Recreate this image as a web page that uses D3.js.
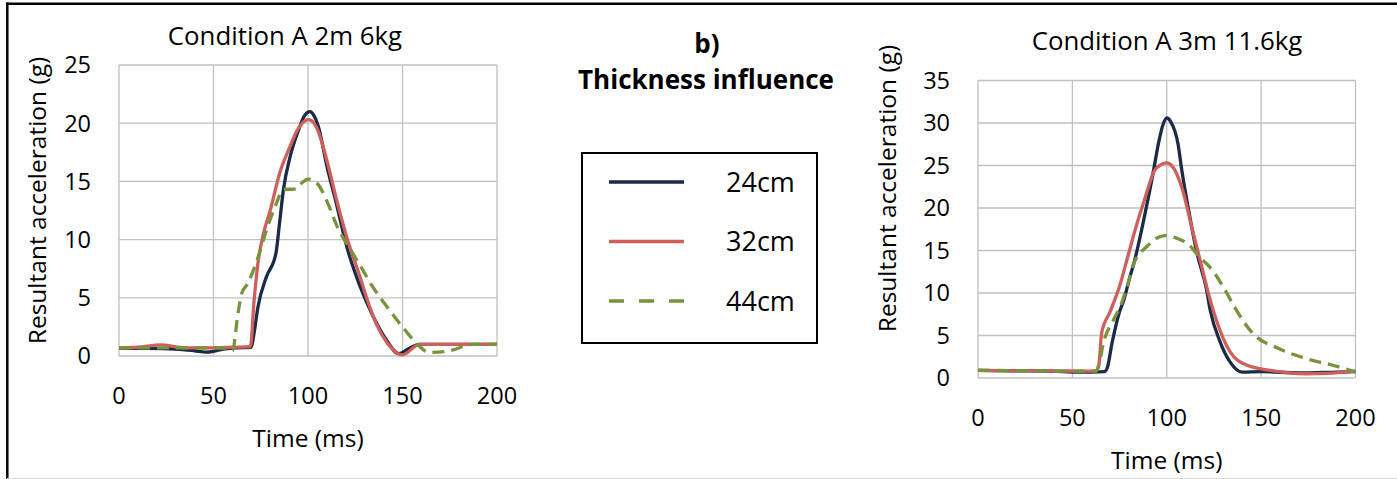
<!DOCTYPE html>
<html>
<head>
<meta charset="utf-8">
<script src="https://cdn.jsdelivr.net/npm/d3@7"></script>
<style>
  body { margin: 0; background: #fff; }
  svg { display: block; font-family: "Open Sans", sans-serif; }
</style>
</head>
<body>
<svg id="fig" width="1397" height="479"></svg>
<script>
// ---- data (time ms, resultant acceleration g) ----
var xTicks = [0, 50, 100, 150, 200];
var yTicksA = [0, 5, 10, 15, 20, 25];
var yTicksB = [0, 5, 10, 15, 20, 25, 30, 35];
var seriesNames = ["24cm", "32cm", "44cm"];

// Condition A 2m 6kg
var a24 = [[0,0.65],[15,0.65],[30,0.6],[40,0.45],[46,0.33],[50,0.4],[55,0.6],[62,0.7],[70,0.75],[71.5,2],[73.5,4.2],
  [78,6.8],[83,8.8],[85,11.5],[87,14.3],[90.5,17.1],[95,19.4],[98,20.6],[101,21],[103,20.7],[105.5,19.7],
  [110,16.3],[115,13.1],[120.5,9.4],[127.5,6.0],[134.5,3.4],[141,1.5],[148,0.2],[153,0.6],[159,1.0],[175,1.0],[200,1.0]];
var a32 = [[0,0.7],[10,0.75],[22,0.95],[35,0.7],[50,0.7],[60,0.75],[69.5,0.8],[71.5,4.8],[73.7,8.2],[76.4,10.5],
  [80,12.5],[85,15.7],[90.5,18],[94,19.3],[97,20],[100,20.3],[102,20.2],[104.6,19.6],[110,16.8],[115,13.5],
  [120.5,10.2],[127.5,6.8],[131,5.0],[136,2.8],[142,1.1],[150,0.1],[159,1.0],[175,1.0],[200,1.0]];
var a44 = [[0,0.7],[20,0.7],[40,0.7],[55,0.7],[60,0.45],[63,3.7],[65,5.4],[68,6.2],[73,8.2],[78,10.8],[83,13.0],
  [87,14.3],[94,14.35],[97,14.9],[100,15.2],[105,14.8],[110,13.3],[115.8,11.0],[123,9.0],[127.5,7.8],
  [134,6.0],[141,4.4],[150,2.5],[158,1.0],[164,0.3],[175,0.45],[187,1.0],[200,1.0]];

// Condition A 3m 11.6kg
var b24 = [[0,0.9],[20,0.85],[40,0.8],[50,0.7],[60,0.7],[67,0.75],[68.5,1.2],[71,4.1],[75,7.8],[77,9.0],[80.5,11.9],
  [82.6,13.5],[88,18.8],[93,24.4],[95.6,27.6],[98,29.8],[100,30.6],[102,30.2],[106,27.5],[108,24.4],[111.7,19.6],
  [116,14.7],[121,10.5],[123,8.0],[128,4.4],[133.5,1.9],[140,0.7],[150,0.75],[170,0.6],[190,0.7],[200,0.75]];
var b32 = [[0,0.9],[20,0.85],[40,0.85],[55,0.8],[62.5,0.85],[64,1.5],[65.5,5.3],[70,7.8],[75,10.8],[80,14.8],
  [84,18.0],[88,20.8],[93.5,24.4],[97,25.1],[100,25.3],[103,24.9],[108,22.4],[113.5,17.5],[119,12.7],[122.6,9.5],
  [126.3,6.8],[133.5,3.1],[142.6,1.5],[155,0.9],[173.5,0.5],[185,0.55],[200,0.85]];
var b44 = [[0,0.9],[30,0.85],[50,0.8],[62.5,0.8],[64,1.5],[66.3,4.0],[71.7,6.8],[75.4,8.4],[80.5,11.9],[82.6,13.5],
  [89.6,15.5],[95.6,16.55],[99,16.75],[106.3,16.35],[111.7,15.7],[117,14.3],[122.6,13.1],[130,10.7],[136,8.3],
  [146,5.15],[159,3.5],[173.6,2.3],[188,1.5],[200,0.7]];

var colors = ["#1b2a47", "#d05f5c", "#77933c"];

var svg = d3.select("#fig");

// frame round the figure
svg.append("line").attr("x1", 6).attr("x2", 1397).attr("y1", 3.8).attr("y2", 3.8)
  .attr("stroke", "#000").attr("stroke-width", 2.5);
svg.append("line").attr("x1", 7.3).attr("x2", 7.3).attr("y1", 2.5).attr("y2", 479)
  .attr("stroke", "#000").attr("stroke-width", 2.5);
svg.append("line").attr("x1", 7).attr("x2", 1397).attr("y1", 478.5).attr("y2", 478.5)
  .attr("stroke", "#dadada").attr("stroke-width", 1);

function drawChart(cfg) {
  var x = d3.scaleLinear().domain([0, 200]).range([cfg.left, cfg.right]);
  var y = d3.scaleLinear().domain([0, cfg.ymax]).range([cfg.bottom, cfg.top]);
  var g = svg.append("g");

  // grid
  g.selectAll(".gy").data(cfg.yTicks).enter().append("line")
    .attr("x1", cfg.left).attr("x2", cfg.right)
    .attr("y1", function(d) { return y(d); }).attr("y2", function(d) { return y(d); })
    .attr("stroke", "#c0c0c0").attr("stroke-width", 1.3);
  g.selectAll(".gx").data(xTicks).enter().append("line")
    .attr("y1", cfg.top).attr("y2", cfg.bottom)
    .attr("x1", function(d) { return x(d); }).attr("x2", function(d) { return x(d); })
    .attr("stroke", "#c0c0c0").attr("stroke-width", 1.3);

  // tick labels
  g.selectAll(".ty").data(cfg.yTicks).enter().append("text")
    .attr("x", cfg.left - 28).attr("y", function(d) { return y(d); }).attr("dy", "0.36em")
    .attr("text-anchor", "end").attr("font-size", 23.5).text(function(d) { return d; });
  g.selectAll(".tx").data(xTicks).enter().append("text")
    .attr("x", function(d) { return x(d); }).attr("y", cfg.bottom + 40).attr("dy", "0.36em")
    .attr("text-anchor", "middle").attr("font-size", 23.5).text(function(d) { return d; });

  // titles
  g.append("text").attr("x", cfg.titleX).attr("y", cfg.titleY).attr("dy", "0.36em")
    .attr("text-anchor", "middle").attr("font-size", 25.8).text(cfg.title);
  g.append("text").attr("x", (cfg.left + cfg.right) / 2).attr("y", cfg.bottom + 82).attr("dy", "0.36em")
    .attr("text-anchor", "middle").attr("font-size", 24.5).text("Time (ms)");
  g.append("text")
    .attr("transform", "translate(" + cfg.ylabX + "," + cfg.ylabY + ") rotate(-90)")
    .attr("dy", "0.36em").attr("text-anchor", "middle").attr("font-size", 24.5)
    .text("Resultant acceleration (g)");

  var line = d3.line()
    .x(function(d) { return x(d[0]); })
    .y(function(d) { return y(d[1]); })
    .curve(d3.curveMonotoneX);

  cfg.series.forEach(function(s, i) {
    g.append("path").attr("d", line(s))
      .attr("fill", "none").attr("stroke", colors[i]).attr("stroke-width", 3.3)
      .attr("stroke-linejoin", "round")
      .attr("stroke-dasharray", i === 2 ? "12,7" : null);
  });
}

drawChart({ left: 119, right: 497, top: 65, bottom: 356, ymax: 25, yTicks: yTicksA,
  title: "Condition A 2m 6kg", titleX: 285, titleY: 35.5, ylabX: 37, ylabY: 200.5,
  series: [a24, a32, a44] });

drawChart({ left: 978, right: 1355.5, top: 80.5, bottom: 378, ymax: 35, yTicks: yTicksB,
  title: "Condition A 3m 11.6kg", titleX: 1167, titleY: 40.4, ylabX: 887, ylabY: 188.5,
  series: [b24, b32, b44] });

// middle heading and legend
svg.append("text").attr("x", 707).attr("y", 43.3).attr("dy", "0.36em").attr("text-anchor", "middle")
  .attr("font-size", 26).attr("font-weight", "bold").text("b)");
svg.append("text").attr("x", 706).attr("y", 80).attr("dy", "0.36em").attr("text-anchor", "middle")
  .attr("font-size", 26).attr("font-weight", "bold").text("Thickness influence");

var legend = svg.append("g");
legend.append("rect").attr("x", 582).attr("y", 153).attr("width", 235).attr("height", 190)
  .attr("fill", "none").attr("stroke", "#000").attr("stroke-width", 2);
var rowY = d3.scalePoint().domain(seriesNames).range([182, 301]);
seriesNames.forEach(function(name, i) {
  legend.append("line").attr("x1", 609).attr("x2", 684)
    .attr("y1", rowY(name)).attr("y2", rowY(name))
    .attr("stroke", colors[i]).attr("stroke-width", 3.5)
    .attr("stroke-dasharray", i === 2 ? "15,15" : null);
  legend.append("text").attr("x", 726).attr("y", rowY(name)).attr("dy", "0.36em")
    .attr("font-size", 27).text(name);
});
</script>
</body>
</html>
